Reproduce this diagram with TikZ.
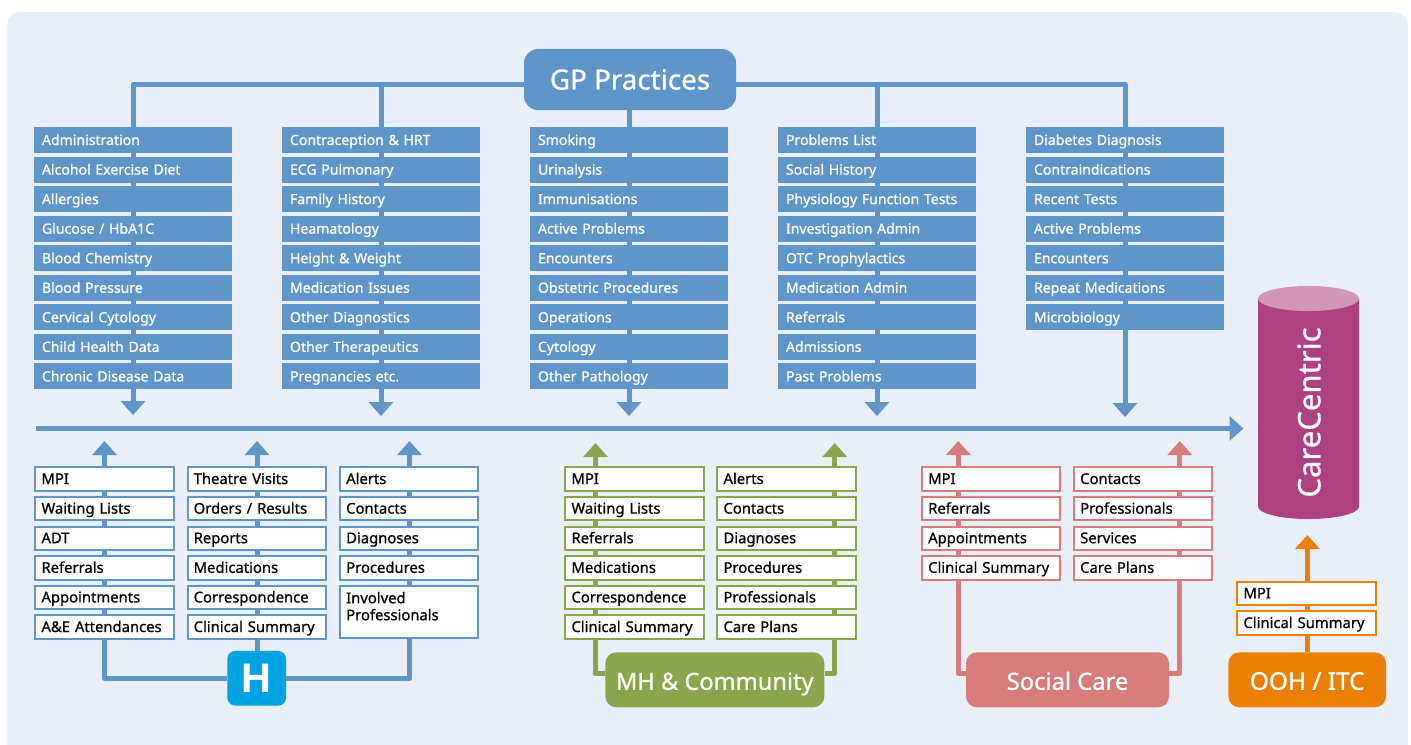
\documentclass[tikz,border=0pt]{standalone}
\usepackage{fontspec}
\setmainfont{Noto Sans}
\newfontfamily\medfont{Noto Sans}[FakeBold=0.8]
\newfontfamily\hfont{Liberation Sans}
\usetikzlibrary{arrows.meta}
\definecolor{bgc}{HTML}{E8EFF9}
\definecolor{blu}{HTML}{6095C9}
\definecolor{grn}{HTML}{8AA54B}
\definecolor{pnk}{HTML}{D77C7A}
\definecolor{org}{HTML}{EA8106}
\definecolor{hbl}{HTML}{00A3E2}
\definecolor{plm}{HTML}{AE4182}
\definecolor{plt}{HTML}{D196B9}
\def\px{0.75pt}
\tikzset{
  x=0.75pt,y=-0.75pt,
  solidbox/.style={font=\medfont\fontsize{10.55pt}{12.75pt}\selectfont,anchor=north west,fill=blu,text=white,draw=none,minimum width=198*\px,minimum height=26*\px,text width=182*\px,inner xsep=8*\px,inner ysep=0pt,align=left,text height=10*\px,text depth=0pt,outer sep=0pt},
  linebox/.style={font=\medfont\fontsize{11.1pt}{12.75pt}\selectfont,anchor=north west,fill=white,text=black,draw=#1,line width=2*\px,minimum width=138.4*\px,minimum height=23.4*\px,text width=126*\px,inner xsep=6.2*\px,inner ysep=0pt,align=left,text height=10*\px,text depth=0pt},
  conn/.style={draw=#1,line width=5*\px,line join=round},
  arr/.style={conn=#1,-{Triangle[width=24*\px,length=14*\px]},#1},
  hub/.style={fill=#1,text=white,rounded corners=11*\px,inner sep=0pt,text height=20*\px,text depth=0pt},
}
\newcommand{\bluecol}[3]{%
  \foreach \t [count=\i, evaluate=\i as \j using int(\i-1)] in {#3} {
    \node[solidbox] (#1\i) at (#2,127+29.55*\j) {\t};
    \ifnum\i>1 \draw[conn=blu] (#1\j.south) -- (#1\i.north);\fi
  }}
\newcommand{\linecol}[5]{%
  \foreach \t [count=\i, evaluate=\i as \j using int(\i-1)] in {#5} {
    \node[linebox=#4] (#1\i) at (#2,#3+29.6*\j) {\t};
  }}
\newcommand{\linkcol}[3]{%
  \foreach \i [evaluate=\i as \j using int(\i-1)] in {2,...,#3} {
    \draw[conn=#2] (#1\j.south -| #1t) -- (#1\i.north -| #1t);
  }}
\begin{document}
\begin{tikzpicture}
\useasboundingbox (0,0) rectangle (1411,744);
\fill[bgc,rounded corners=13*\px] (7,12) rectangle (1408,770);

% GP practices
\node[hub=blu,minimum width=212*\px,minimum height=61*\px,rounded corners=14*\px,font=\medfont\fontsize{20.8pt}{24pt}\selectfont] (gp) at (630,79.5) {GP Practices};
\bluecol{a}{34}{Administration,Alcohol Exercise Diet,Allergies,Glucose / HbA1C,Blood Chemistry,Blood Pressure,Cervical Cytology,Child Health Data,Chronic Disease Data}
\bluecol{b}{282}{Contraception \& HRT,ECG Pulmonary,Family History,Heamatology,Height \& Weight,Medication Issues,Other Diagnostics,Other Therapeutics,Pregnancies etc.}
\bluecol{c}{530}{Smoking,Urinalysis,Immunisations,Active Problems,Encounters,Obstetric Procedures,Operations,Cytology,Other Pathology}
\bluecol{d}{778}{Problems List,Social History,Physiology Function Tests,Investigation Admin,OTC Prophylactics,Medication Admin,Referrals,Admissions,Past Problems}
\bluecol{e}{1026}{Diabetes Diagnosis,Contraindications,Recent Tests,Active Problems,Encounters,Repeat Medications,Microbiology}

\coordinate (gpl) at (380,84.5);
\draw[conn=blu] (gp.west |- gpl) -| (a1.north);
\draw[conn=blu] (gp.west |- gpl) -| (b1.north);
\draw[conn=blu] (gp.south -| c1.north) -- (c1.north);
\draw[conn=blu] (gp.east |- gpl) -| (d1.north);
\draw[conn=blu] (gp.east |- gpl) -| (e1.north);

% down arrows
\coordinate (ta) at (133,415);
\coordinate (tb) at (381,416);
\coordinate (tc) at (629,416);
\coordinate (td) at (877,416);
\coordinate (te) at (1125,417);
\draw[arr=blu] (a9.south) -- (ta);
\draw[arr=blu] (b9.south) -- (tb);
\draw[arr=blu] (c9.south) -- (tc);
\draw[arr=blu] (d9.south) -- (td);
\draw[arr=blu] (e7.south) -- (te);

% main line
\coordinate (ms) at (36,428.5);
\coordinate (me) at (1243.5,428.5);
\draw[arr=blu] (ms) -- (me);

% Hospital
\node[fill=hbl,text=white,rounded corners=8*\px,minimum width=58.7*\px,minimum height=54.7*\px,inner sep=0pt,font=\hfont\fontsize{31pt}{31pt}\selectfont\bfseries] (H) at (256.7,678.3) {H};
\linecol{p}{34.3}{466.3}{blu}{MPI,Waiting Lists,ADT,Referrals,Appointments,A\&E Attendances}
\linecol{q}{186.5}{466.3}{blu}{Theatre Visits,Orders / Results,Reports,Medications,Correspondence,Clinical Summary}
\linecol{r}{339}{466.3}{blu}{Alerts,Contacts,Diagnoses,Procedures}
\node[linebox=blu,minimum height=52*\px,text depth=27.6*\px] (r5) at (339,585) {Involved\\Professionals};
\coordinate (pt) at (104.5,441);
\coordinate (qt) at (257,441);
\coordinate (rt) at (409.5,441);
\draw[arr=blu] (p1.north -| pt) -- (pt);
\draw[arr=blu] (q1.north -| qt) -- (qt);
\draw[arr=blu] (r1.north -| rt) -- (rt);
\linkcol{p}{blu}{6}
\linkcol{q}{blu}{6}
\linkcol{r}{blu}{5}
\draw[conn=blu] (p6.south -| pt) |- (H.west);
\draw[conn=blu] (q6.south -| qt) -- (H.north -| qt);
\draw[conn=blu] (r5.south -| rt) |- (H.east);

% MH & Community
\node[hub=grn,minimum width=219*\px,minimum height=55*\px,font=\medfont\fontsize{17.7pt}{20pt}\selectfont] (mh) at (714.8,679.8) {MH \& Community};
\linecol{u}{564.3}{466.3}{grn}{MPI,Waiting Lists,Referrals,Medications,Correspondence,Clinical Summary}
\linecol{v}{716.3}{466.3}{grn}{Alerts,Contacts,Diagnoses,Procedures,Professionals,Care Plans}
\coordinate (ut) at (595.5,443);
\coordinate (vt) at (834.7,443);
\coordinate (ml) at (600,673.7);
\draw[arr=grn] (u1.north -| ut) -- (ut);
\draw[arr=grn] (v1.north -| vt) -- (vt);
\linkcol{u}{grn}{6}
\linkcol{v}{grn}{6}
\draw[conn=grn] (u6.south -| ut) |- (mh.west |- ml);
\draw[conn=grn] (v6.south -| vt) |- (mh.east |- ml);

% Social care
\node[hub=pnk,minimum width=203*\px,minimum height=55*\px,font=\medfont\fontsize{17.8pt}{20pt}\selectfont] (sc) at (1067.5,679.8) {Social Care};
\linecol{w}{921}{466.3}{pnk}{MPI,Referrals,Appointments,Clinical Summary}
\linecol{y}{1073}{466.3}{pnk}{Contacts,Professionals,Services,Care Plans}
\coordinate (wt) at (958.3,441);
\coordinate (yt) at (1179.7,441);
\coordinate (sl) at (960,673.7);
\draw[arr=pnk] (w1.north -| wt) -- (wt);
\draw[arr=pnk] (y1.north -| yt) -- (yt);
\linkcol{w}{pnk}{4}
\linkcol{y}{pnk}{4}
\draw[conn=pnk] (w4.south -| wt) |- (sc.west |- sl);
\draw[conn=pnk] (y4.south -| yt) |- (sc.east |- sl);

% OOH
\node[hub=org,minimum width=157.7*\px,minimum height=55*\px,font=\medfont\fontsize{18.3pt}{20pt}\selectfont] (oo) at (1307.2,679.8) {OOH / ITC};
\node[linebox=org] (o1) at (1236.3,580.7) {MPI};
\node[linebox=org] (o2) at (1236.3,610.3) {Clinical Summary};
\coordinate (ot) at (1307.3,535);
\draw[arr=org] (o1.north -| ot) -- (ot);
\linkcol{o}{org}{2}
\draw[conn=org] (o2.south -| ot) -- (oo.north -| ot);

% CareCentric cylinder
\fill[plm] (1258,298.5) -- (1258,506.5) arc[start angle=180,end angle=360,x radius=37.875pt,y radius=9.4pt] -- (1359,298.5) -- cycle;
\fill[plt] (1308.5,298.5) ellipse[x radius=37.875pt,y radius=9.4pt];
\node[rotate=90,text=white,inner sep=0pt,font=\medfont\fontsize{23.3pt}{25pt}\selectfont] (cc) at (1309,412.5) {CareCentric};
\end{tikzpicture}
\end{document}
